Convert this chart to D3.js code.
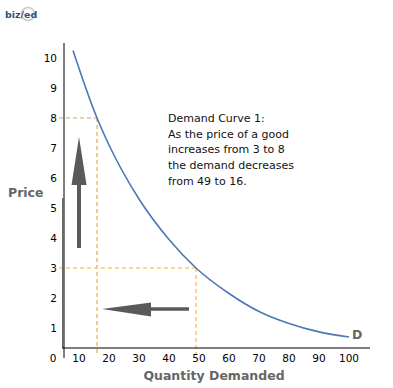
<!DOCTYPE html>
<html>
<head>
<meta charset="utf-8">
<script src="https://cdn.jsdelivr.net/npm/d3@7"></script>
<style>
  body { margin: 0; background: #fff; }
  text { font-family: "DejaVu Sans", Verdana, sans-serif; }
</style>
</head>
<body>
<div id="chart"></div>
<script>
// demand curve
const quantity = [8, 16, 20, 30, 40, 49, 60, 70, 80, 90, 100];
const price = [10.25, 8, 7.1, 5.3, 3.95, 3, 2.15, 1.55, 1.15, 0.87, 0.7];
const xTicks = [10, 20, 30, 40, 50, 60, 70, 80, 90, 100];
const yTicks = [1, 2, 3, 4, 5, 6, 7, 8, 9, 10];
const note = ['Demand Curve 1:', 'As the price of a good', 'increases from 3 to 8', 'the demand decreases', 'from 49 to 16.'];
const oldPoint = { q: 49, p: 3 };
const newPoint = { q: 16, p: 8 };

const width = 393, height = 388;

const svg = d3.select('#chart').append('svg')
  .attr('width', width)
  .attr('height', height);

const x = d3.scaleLinear().domain([0, 100]).range([49, 349]);
const y = d3.scaleLinear().domain([0, 10]).range([358, 58]);

const axisX = x(5);          // y axis sits at q = 5
const axisY = y(0) - 10;     // x axis sits a little above p = 0

// logo
const logo = svg.append('g').attr('transform', 'translate(5,8)');
logo.append('circle').attr('cx', 23).attr('cy', 6).attr('r', 6.5)
  .style('fill', 'none').style('stroke', '#c8c8c8').style('stroke-width', 1.5);
logo.append('text').attr('x', 0).attr('y', 10)
  .style('font-size', '9.5px').style('font-weight', 'bold').style('fill', '#2f4f80')
  .text('biz/ed');

// guide lines
svg.append('line')
  .attr('x1', axisX - 5).attr('x2', x(newPoint.q))
  .attr('y1', y(newPoint.p)).attr('y2', y(newPoint.p))
  .style('stroke', '#c8a070').style('stroke-width', 1).style('stroke-dasharray', '4,3');
svg.append('line')
  .attr('x1', x(newPoint.q)).attr('x2', x(newPoint.q))
  .attr('y1', y(newPoint.p)).attr('y2', axisY + 6)
  .style('stroke', '#e39a1e').style('stroke-width', 1).style('stroke-dasharray', '4,3');
svg.append('line')
  .attr('x1', axisX - 5).attr('x2', x(oldPoint.q))
  .attr('y1', y(oldPoint.p)).attr('y2', y(oldPoint.p))
  .style('stroke', '#ffc670').style('stroke-width', 1.6).style('stroke-dasharray', '4,3');
svg.append('line')
  .attr('x1', x(oldPoint.q)).attr('x2', x(oldPoint.q))
  .attr('y1', y(oldPoint.p)).attr('y2', axisY + 6)
  .style('stroke', '#ffc670').style('stroke-width', 1.6).style('stroke-dasharray', '4,3');

// axes
svg.append('line')
  .attr('x1', axisX).attr('x2', axisX).attr('y1', 43).attr('y2', y(0))
  .style('stroke', '#000').style('stroke-width', 1);
svg.append('line')
  .attr('x1', axisX - 1).attr('x2', axisX - 1).attr('y1', 198).attr('y2', axisY)
  .style('stroke', '#6a6a6a').style('stroke-width', 2);
svg.append('line')
  .attr('x1', axisX - 2).attr('x2', 370).attr('y1', axisY).attr('y2', axisY)
  .style('stroke', '#000').style('stroke-width', 1);

svg.append('g').selectAll('text').data(yTicks).join('text')
  .attr('x', 57).attr('y', d => y(d)).attr('dy', '0.35em')
  .attr('text-anchor', 'end')
  .style('font-size', '10.5px').style('fill', '#000')
  .text(d => d);
svg.append('g').selectAll('text').data(xTicks).join('text')
  .attr('x', d => x(d)).attr('y', y(0)).attr('dy', '0.35em')
  .attr('text-anchor', 'middle')
  .style('font-size', '10.5px').style('fill', '#000')
  .text(d => d);
svg.append('text')
  .attr('x', x(0) + 4).attr('y', y(0)).attr('dy', '0.35em')
  .attr('text-anchor', 'middle')
  .style('font-size', '10.5px').text('0');

svg.append('text')
  .attr('x', 8).attr('y', 193).attr('dy', '0.35em')
  .style('font-size', '12.5px').style('font-weight', 'bold').style('fill', '#666')
  .text('Price');
svg.append('text')
  .attr('x', 214).attr('y', 376).attr('dy', '0.35em')
  .attr('text-anchor', 'middle')
  .style('font-size', '12.5px').style('font-weight', 'bold').style('fill', '#666')
  .text('Quantity Demanded');

// demand curve
const line = d3.line()
  .x((d, i) => x(quantity[i]))
  .y(d => y(d))
  .curve(d3.curveMonotoneX);

svg.append('path')
  .datum(price)
  .attr('d', line)
  .style('fill', 'none')
  .style('stroke', '#4b78b4')
  .style('stroke-width', '1.6px');

svg.append('text')
  .attr('x', x(100) + 3).attr('y', y(price[price.length - 1]) - 2).attr('dy', '0.35em')
  .style('font-size', '12.5px').style('font-weight', 'bold').style('fill', '#666')
  .text('D');

// arrows
const arrowColor = '#5a5a5a';
svg.append('line')
  .attr('x1', 79).attr('x2', 79).attr('y1', 248).attr('y2', 182)
  .style('stroke', arrowColor).style('stroke-width', 4);
svg.append('path')
  .attr('d', 'M79,137 L86.5,185 L71.5,185 Z')
  .style('fill', arrowColor);
svg.append('line')
  .attr('x1', 189).attr('x2', 148).attr('y1', 309).attr('y2', 309)
  .style('stroke', arrowColor).style('stroke-width', 3.5);
svg.append('path')
  .attr('d', 'M102,309 L151,302.5 L151,316.5 Z')
  .style('fill', arrowColor);

// note
svg.append('g').selectAll('text').data(note).join('text')
  .attr('x', 168).attr('y', (d, i) => 118 + i * 15.8).attr('dy', '0.35em')
  .style('font-size', '11px').style('fill', '#111')
  .text(d => d);
</script>
</body>
</html>
